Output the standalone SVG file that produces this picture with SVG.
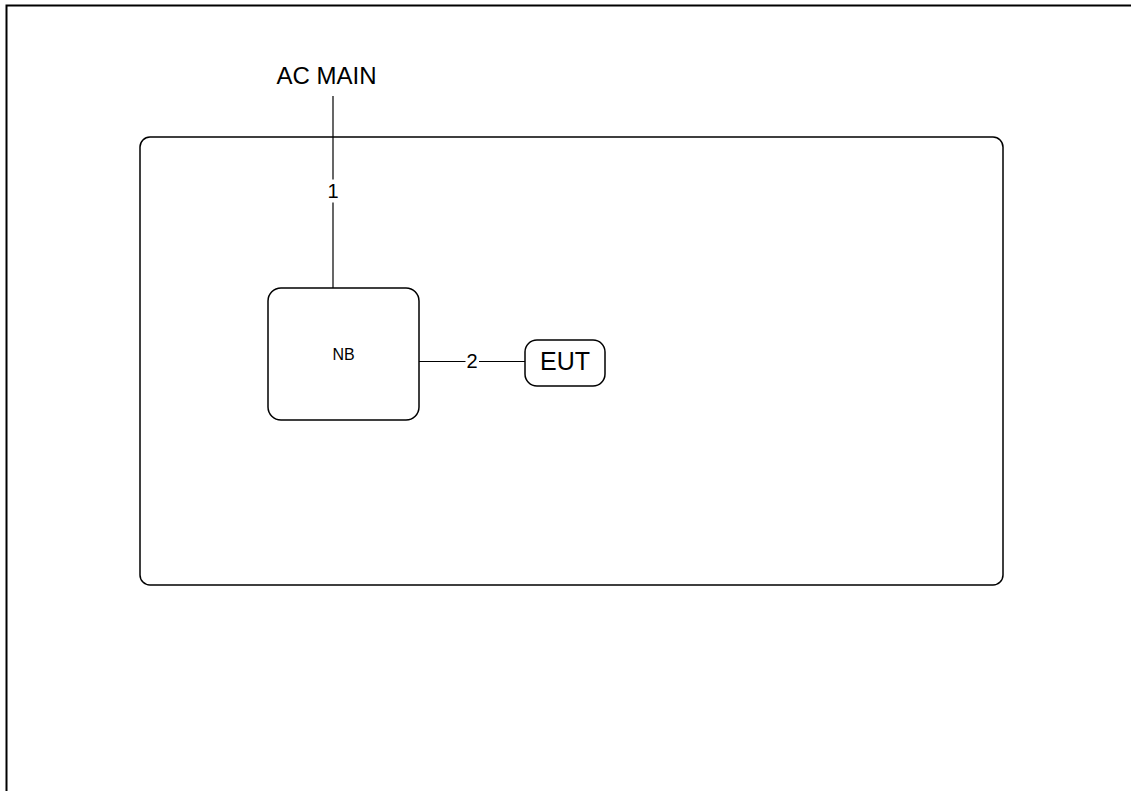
<svg xmlns="http://www.w3.org/2000/svg" width="1131" height="791" viewBox="0 0 1131 791">
<style>
text{font-family:"Liberation Sans",Arial,sans-serif;fill:#000;text-anchor:middle}
.box{fill:#fff;stroke:#000;stroke-width:1.5}
.wire{stroke:#000;stroke-width:1.2;fill:none}
.lblbg{fill:#fff;stroke:none}
</style>
<rect x="0" y="0" width="1131" height="791" fill="#fff"/>
<path id="frame" d="M6.5,800 V5.5 H1140" fill="none" stroke="#000" stroke-width="2"/>
<g id="enclosure">
<rect class="box" x="140" y="137" width="863" height="448" rx="10" ry="10"/>
</g>
<g id="connectors">
<line class="wire" x1="333" y1="96" x2="333" y2="288"/>
<rect class="lblbg" x="325" y="179.5" width="16" height="23"/>
<text x="333" y="198" font-size="20">1</text>
<line class="wire" x1="419" y1="361.5" x2="525" y2="361.5"/>
<rect class="lblbg" x="465.5" y="352" width="13.5" height="19"/>
<text x="472" y="368" font-size="20">2</text>
</g>
<g id="ac-main">
<text x="326.5" y="84" font-size="24">AC MAIN</text>
</g>
<g id="nb">
<rect class="box" x="268" y="288" width="151" height="132" rx="13" ry="13"/>
<text x="343.5" y="360" font-size="16">NB</text>
</g>
<g id="eut">
<rect class="box" x="525" y="340" width="80" height="46" rx="12" ry="12"/>
<text x="565" y="369.5" font-size="25">EUT</text>
</g>
</svg>
